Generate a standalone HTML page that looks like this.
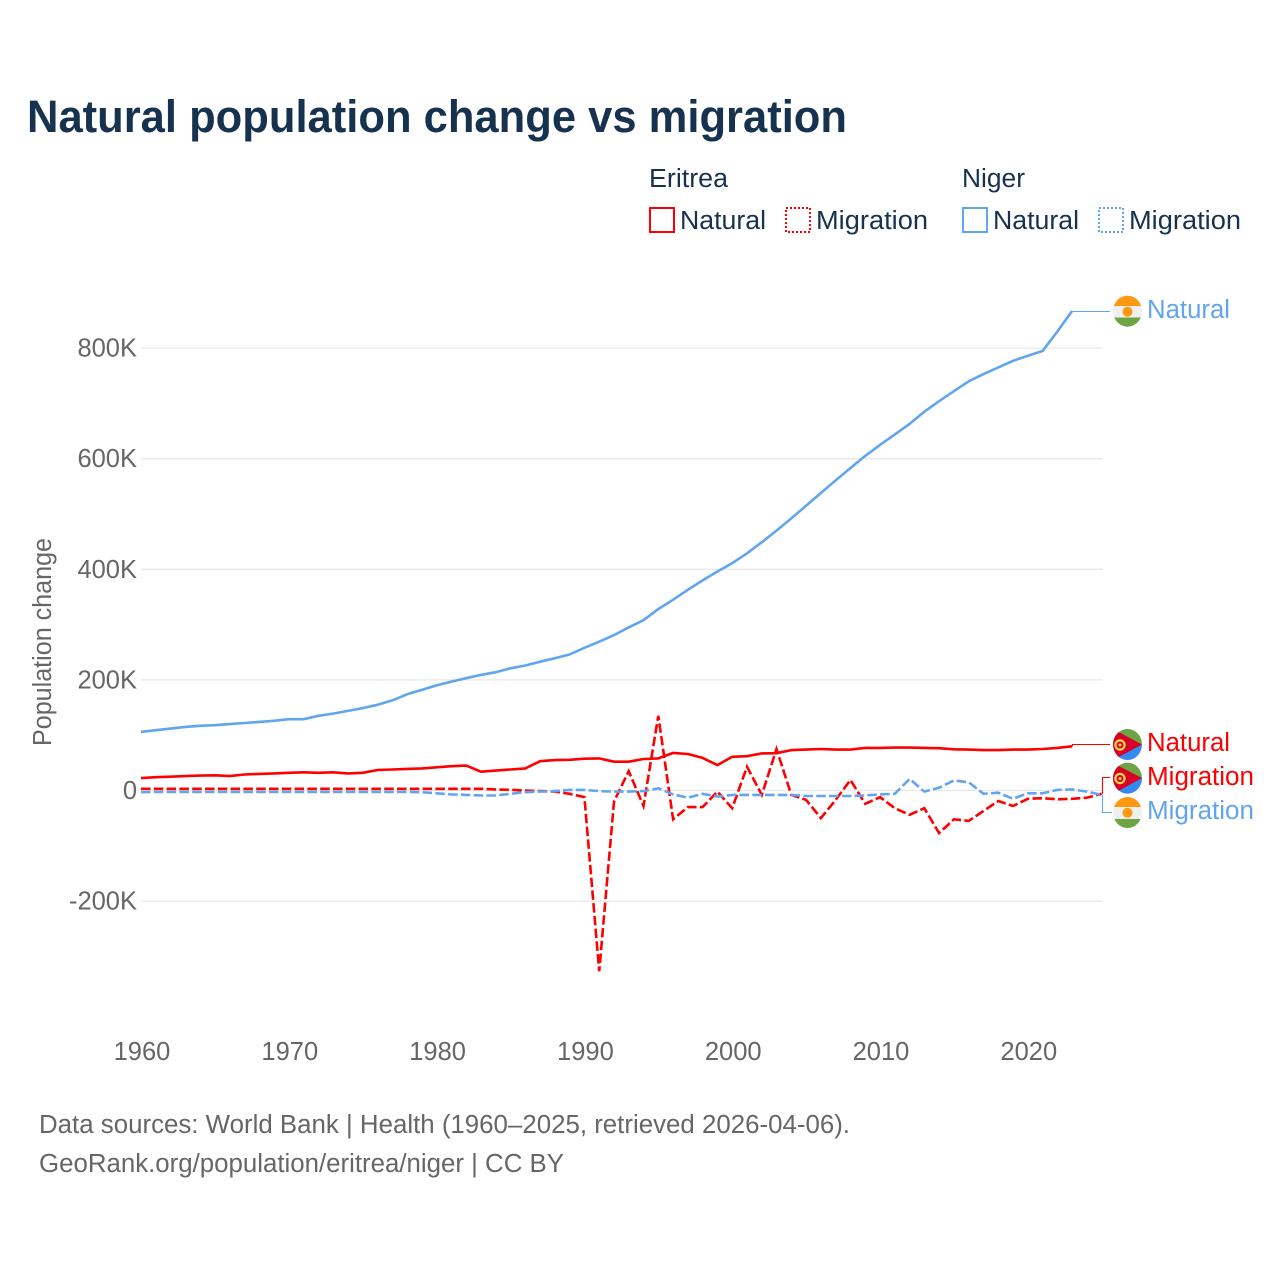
<!DOCTYPE html>
<html lang="en">
<head>
<meta charset="utf-8">
<title>Natural population change vs migration</title>
<style>
html,body{margin:0;padding:0;background:#fff;}
svg{display:block;font-family:"Liberation Sans",sans-serif;}
</style>
</head>
<body>
<svg id="chart" xmlns="http://www.w3.org/2000/svg" width="1280" height="1280" viewBox="0 0 1280 1280">
  <rect width="1280" height="1280" fill="#ffffff"/>
  <defs>
    <clipPath id="clip-a"><ellipse cx="1127.5" cy="311.2" rx="14.5" ry="15.5"/></clipPath>
    <clipPath id="clip-b"><ellipse cx="1127.5" cy="744.5" rx="14.5" ry="15.5"/></clipPath>
    <clipPath id="clip-c"><ellipse cx="1127.5" cy="778.2" rx="14.5" ry="15.5"/></clipPath>
    <clipPath id="clip-d"><ellipse cx="1127.5" cy="812.5" rx="14.5" ry="15.5"/></clipPath>
  </defs>

  <text x="27" y="132" font-size="45" font-weight="700" fill="#17324f" textLength="820" lengthAdjust="spacingAndGlyphs">Natural population change vs migration</text>

  <g font-size="25.5" fill="#17324f">
    <text x="649" y="187" textLength="79" lengthAdjust="spacingAndGlyphs">Eritrea</text>
    <text x="962" y="187" textLength="63" lengthAdjust="spacingAndGlyphs">Niger</text>
    <rect x="650" y="208" width="24" height="24" fill="none" stroke="#ff0000" stroke-width="2"/>
    <text x="680" y="229" textLength="86" lengthAdjust="spacingAndGlyphs">Natural</text>
    <rect x="786" y="208" width="24" height="24" fill="none" stroke="#ff0000" stroke-width="2" stroke-dasharray="2 2"/>
    <text x="816" y="229" textLength="112" lengthAdjust="spacingAndGlyphs">Migration</text>
    <rect x="963" y="208" width="24" height="24" fill="none" stroke="#60a5ee" stroke-width="2"/>
    <text x="993" y="229" textLength="86" lengthAdjust="spacingAndGlyphs">Natural</text>
    <rect x="1099" y="208" width="24" height="24" fill="none" stroke="#60a5ee" stroke-width="2" stroke-dasharray="2 2"/>
    <text x="1129" y="229" textLength="112" lengthAdjust="spacingAndGlyphs">Migration</text>
  </g>

  <text transform="translate(51 746) rotate(-90)" font-size="25.5" fill="#666666" textLength="208" lengthAdjust="spacingAndGlyphs">Population change</text>

  <g id="grid"></g>
  <g id="yticks"></g>
  <g id="xticks"></g>
  <g id="connectors"></g>
  <g id="series"></g>

  <g clip-path="url(#clip-a)">
    <rect x="1112" y="295" width="31" height="11" fill="#ff9811"/><rect x="1112" y="306" width="31" height="11.500" fill="#f0f0f0"/><rect x="1112" y="317.500" width="31" height="10" fill="#6da544"/><circle cx="1127.5" cy="311.700" r="5" fill="#ff9811"/>
  </g>
  <g clip-path="url(#clip-b)">
    <rect x="1112" y="728" width="31" height="17" fill="#6da544"/><rect x="1112" y="745" width="31" height="16" fill="#338af3"/><polygon points="1113,729 1142,744.500 1113,760" fill="#d80027"/><circle cx="1120" cy="745" r="4.600" fill="none" stroke="#ffda44" stroke-width="2.200"/><circle cx="1120" cy="745" r="1.500" fill="#ffda44"/>
  </g>
  <g clip-path="url(#clip-c)">
    <rect x="1112" y="762" width="31" height="16" fill="#6da544"/><rect x="1112" y="778" width="31" height="16" fill="#338af3"/><polygon points="1113,763 1142,778 1113,794" fill="#d80027"/><circle cx="1120" cy="778.500" r="4.600" fill="none" stroke="#ffda44" stroke-width="2.200"/><circle cx="1120" cy="778.500" r="1.500" fill="#ffda44"/>
  </g>
  <g clip-path="url(#clip-d)">
    <rect x="1112" y="796" width="31" height="11" fill="#ff9811"/><rect x="1112" y="807" width="31" height="12" fill="#f0f0f0"/><rect x="1112" y="819" width="31" height="10" fill="#6da544"/><circle cx="1127.5" cy="812.800" r="5" fill="#ff9811"/>
  </g>

  <g font-size="25.5">
    <text x="1147" y="318" fill="#60a5ee" textLength="83" lengthAdjust="spacingAndGlyphs">Natural</text>
    <text x="1147" y="751" fill="#ff0000" textLength="83" lengthAdjust="spacingAndGlyphs">Natural</text>
    <text x="1147" y="785" fill="#ff0000" textLength="107" lengthAdjust="spacingAndGlyphs">Migration</text>
    <text x="1147" y="819" fill="#60a5ee" textLength="107" lengthAdjust="spacingAndGlyphs">Migration</text>
  </g>

  <g font-size="25.5" fill="#666666">
    <text x="39" y="1133" textLength="811" lengthAdjust="spacingAndGlyphs">Data sources: World Bank | Health (1960–2025, retrieved 2026-04-06).</text>
    <text x="39" y="1172" textLength="525" lengthAdjust="spacingAndGlyphs">GeoRank.org/population/eritrea/niger | CC BY</text>
  </g>
</svg>
<script>
const startYear = 1960;
const xTickYears = [1960, 1970, 1980, 1990, 2000, 2010, 2020];
const yTickValues = [800, 600, 400, 200, 0, -200];
const yTickLabels = ['800K', '600K', '400K', '200K', '0', '-200K'];

const nigerNatural = [106,109,112,115,117,118,120,122,124,126,129,129,135,139,144,149,155,163,174,182,190,197,203,209,214,221,226,233,239,246,258,269,281,295,308,328,345,363,380,396,411,429,449,470,492,515,538,561,583,605,625,644,663,685,704,722,740,753,765,777,786,795,830,867];
const eritreaNatural = [22.5,24,25,26,27,27.5,26,29,30,31,32,33,32,33,31,32,37,38,39,40,42,44,45,34,36,38,40,53,55,55.5,57.5,58,52,52,57,58,68,66,59,46,61,62,67,67.5,73,74,75,74,74,77,77,77.5,77.5,77,76.5,74.5,74,73,73,74,74,75,77,80];
const eritreaMigration = [3,3,3,3,3,3,3,3,3,3,3,3,3,3,3,3,3,3,3,3,3,3,3,3,2,1,0,-1,-2,-6,-12,-327,-20,35,-28,135,-52,-30,-30,-2,-32,43,-8,75,-8,-17,-50,-17,19,-24,-12,-32,-44,-32,-77,-52,-55,-37,-19,-28,-15,-14,-16,-15,-13,-6];
const nigerMigration = [-3,-2.5,-2.5,-2.5,-2.5,-2.5,-2.5,-2.5,-2.5,-2.5,-2.5,-2.5,-2.5,-2.5,-2.5,-2.5,-2.5,-2.5,-2.5,-3,-5,-7,-8,-9,-9,-6,-3,-2,-1,1,1,-1,-2,-2,-1,4,-7,-13,-6,-11,-8,-8,-8,-8,-8,-10,-10,-10,-10,-9,-7,-6,21,-2,5,18,15,-6,-4,-15,-5,-5,1,2,-2,-8];

const NS = 'http://www.w3.org/2000/svg';
function xScale(year) { return 141 + (year - 1960) * 14.78; }
function yScale(k) { return 790.5 - k * 0.553; }
function pointsFor(values) {
  return values.map(function (v, i) { return xScale(startYear + i).toFixed(1) + ',' + yScale(v).toFixed(1); }).join(' ');
}
function make(tag, attrs, parent) {
  const el = document.createElementNS(NS, tag);
  Object.keys(attrs).forEach(function (k) { el.setAttribute(k, attrs[k]); });
  parent.appendChild(el);
  return el;
}

const grid = document.getElementById('grid');
const yticks = document.getElementById('yticks');
const xticks = document.getElementById('xticks');
const connectors = document.getElementById('connectors');
const series = document.getElementById('series');

yTickValues.forEach(function (v, i) {
  const line = make('line', {x1: xScale(1960), x2: xScale(2025) + 1, y1: yScale(v), y2: yScale(v), stroke: '#e8e8e8', 'stroke-width': 1.3}, grid);
  
  
  const t = make('text', {x: 137, y: yScale(v) + 8.5, 'text-anchor': 'end', 'font-size': 25.5, fill: '#666666'}, yticks);
  t.textContent = yTickLabels[i];
  
  
});

xTickYears.forEach(function (yr) {
  const t = make('text', {x: xScale(yr) + 1, y: 1060, 'text-anchor': 'middle', 'font-size': 25.5, fill: '#666666'}, xticks);
  t.textContent = String(yr);
  
  
});

function addConnector(values, labelY, color, endX) {
  const n = values.length - 1;
  const x0 = Math.round(xScale(startYear + n)) + 0.5;
  const y0 = yScale(values[n]);
  const p = make('polyline', {points: x0 + ',' + y0 + ' ' + x0 + ',' + labelY + ' ' + endX + ',' + labelY, fill: 'none', stroke: color, 'stroke-width': 1.1}, connectors);
  
  
}
addConnector(nigerNatural, 311.5, '#60a5ee', 1110);
addConnector(eritreaNatural, 744.5, '#ff0000', 1110);
addConnector(nigerMigration, 812.5, '#60a5ee', 1112);
addConnector(eritreaMigration, 777.5, '#ff0000', 1110);

const nigerNaturalLine = make('polyline', {points: pointsFor(nigerNatural), fill: 'none', stroke: '#60a5ee', 'stroke-width': 2.6, 'stroke-linejoin': 'round'}, series);



const eritreaNaturalLine = make('polyline', {points: pointsFor(eritreaNatural), fill: 'none', stroke: '#ff0000', 'stroke-width': 2.6, 'stroke-linejoin': 'round'}, series);



const eritreaMigrationLine = make('polyline', {points: pointsFor(eritreaMigration), fill: 'none', stroke: '#ff0000', 'stroke-width': 2.6, 'stroke-dasharray': '9.5 3.3'}, series);



const nigerMigrationLine = make('polyline', {points: pointsFor(nigerMigration), fill: 'none', stroke: '#60a5ee', 'stroke-width': 2.6, 'stroke-dasharray': '9.5 3.3'}, series);


</script>
</body>
</html>
